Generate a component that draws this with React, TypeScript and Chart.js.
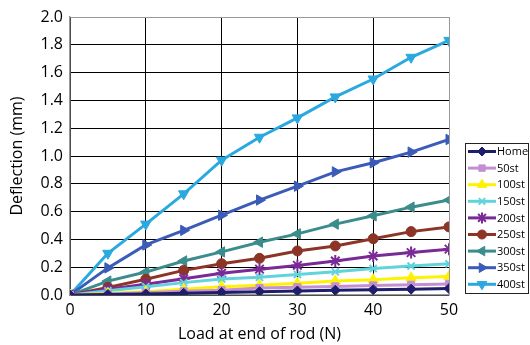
import React, { useEffect, useRef } from "react";
import { Chart, registerables } from "chart.js";
import { drawPoint } from "chart.js/helpers";
Chart.register(...registerables);

const loads = [0, 5, 10, 15, 20, 25, 30, 35, 40, 45, 50];
const seriesNames = ["Home", "50st", "100st", "150st", "200st", "250st", "300st", "350st", "400st"];
const home = [0, 0.003, 0.007, 0.012, 0.018, 0.024, 0.029, 0.034, 0.038, 0.042, 0.046];
const st50 = [0, 0.008, 0.017, 0.027, 0.035, 0.05, 0.056, 0.062, 0.069, 0.074, 0.08];
const st100 = [0, 0.012, 0.024, 0.042, 0.06, 0.07, 0.084, 0.1, 0.11, 0.124, 0.134];
const st150 = [0, 0.03, 0.06, 0.089, 0.115, 0.127, 0.148, 0.168, 0.19, 0.208, 0.224];
const st200 = [0, 0.042, 0.078, 0.117, 0.156, 0.186, 0.213, 0.245, 0.28, 0.305, 0.33];
const st250 = [0, 0.055, 0.113, 0.177, 0.225, 0.264, 0.317, 0.353, 0.405, 0.456, 0.49];
const st300 = [0, 0.1, 0.165, 0.245, 0.31, 0.38, 0.44, 0.51, 0.57, 0.632, 0.683];
const st350 = [0, 0.195, 0.36, 0.465, 0.574, 0.683, 0.783, 0.886, 0.951, 1.028, 1.119];
const st400 = [0, 0.3, 0.51, 0.728, 0.97, 1.135, 1.274, 1.425, 1.554, 1.71, 1.832];
const seriesValues = [home, st50, st100, st150, st200, st250, st300, st350, st400];
const seriesColors = ["#1e1f6b", "#c48fd2", "#fff200", "#62d3db", "#7a2a96", "#8c3527", "#3b8c8c", "#3a5bb8", "#2aa9e0"];
const seriesMarkers = ["rectRot", "rect", "triangle", "crossRot", "star", "circle", "triangle", "triangle", "triangle"];
const seriesRotations = [0, 0, 0, 0, 0, 0, -90, 90, 180];
const seriesRadii = [5, 5, 6, 5, 6, 5, 6, 6, 6];
const xTitle = "Load at end of rod (N)";
const yTitle = "Deflection (mm)";

const FONT = "'Open Sans', sans-serif";

function strokeOnly(m: string) {
  return m === "star" || m === "crossRot";
}

const customLegend = {
  id: "customLegend",
  afterDraw(chart: any) {
    const ctx = chart.ctx;
    const boxL = 465, boxT = 143, boxW = 63, boxH = 150;
    const rowH = 16.6, firstY = 151.5;
    ctx.save();
    ctx.strokeStyle = "#222";
    ctx.lineWidth = 1;
    ctx.strokeRect(boxL + 0.5, boxT + 0.5, boxW, boxH);
    ctx.font = `11px ${FONT}`;
    ctx.textBaseline = "middle";
    ctx.textAlign = "left";
    seriesNames.forEach((name, i) => {
      const y = firstY + i * rowH;
      const c = seriesColors[i];
      ctx.strokeStyle = c;
      ctx.fillStyle = c;
      ctx.lineWidth = 3;
      ctx.beginPath();
      ctx.moveTo(468, y);
      ctx.lineTo(496, y);
      ctx.stroke();
      const m = seriesMarkers[i];
      ctx.lineWidth = strokeOnly(m) ? 2 : 1;
      drawPoint(ctx, { pointStyle: m, rotation: seriesRotations[i], radius: seriesRadii[i] - 0.5, borderWidth: ctx.lineWidth } as any, 482, y);
      ctx.fillStyle = "#000";
      ctx.fillText(name, 497, y + 0.5);
    });
    ctx.restore();
  },
};

export default function App() {
  const ref = useRef<HTMLCanvasElement>(null);
  useEffect(() => {
    document.body.style.margin = "0";
    const datasets = seriesNames.map((name, i) => ({
      label: name,
      data: loads.map((x, j) => ({ x, y: seriesValues[i][j] })),
      borderColor: seriesColors[i],
      backgroundColor: seriesColors[i],
      borderWidth: 3,
      pointStyle: seriesMarkers[i],
      pointRotation: seriesRotations[i],
      pointRadius: seriesRadii[i],
      pointBorderWidth: strokeOnly(seriesMarkers[i]) ? 2 : 1,
      pointBackgroundColor: seriesColors[i],
      pointBorderColor: seriesColors[i],
      tension: 0,
    }));
    const chart = new Chart(ref.current!, {
      type: "line",
      data: { datasets },
      plugins: [customLegend],
      options: {
        responsive: false,
        animation: false,
        events: [],
        layout: { padding: { left: 0, right: 81, top: 17, bottom: 0 } },
        plugins: {
          tooltip: { enabled: false },
          legend: { display: false },
        },
        scales: {
          x: {
            type: "linear",
            min: 0,
            max: 50,
            afterFit: (s: any) => {
              s.height = 50;
            },
            ticks: { stepSize: 10, color: "#000", font: { family: FONT, size: 16 }, padding: 6 },
            grid: {
              drawTicks: false,
              color: (c: any) => (c.tick && c.tick.value === 50 ? "#999" : "#000"),
            },
            border: { color: "#999", width: 1.5 },
            title: { display: true, text: xTitle, color: "#000", font: { family: FONT, size: 16 }, padding: { top: 0, bottom: 1 } },
          },
          y: {
            min: 0,
            max: 2,
            afterFit: (s: any) => {
              s.width = 70;
            },
            ticks: {
              stepSize: 0.2,
              color: "#000",
              font: { family: FONT, size: 16 },
              padding: 7,
              callback: (v: any) => Number(v).toFixed(1),
            },
            grid: {
              drawTicks: false,
              color: (c: any) => (c.tick && Math.abs(c.tick.value - 2) < 1e-6 ? "#999" : "#000"),
            },
            border: { color: "#999", width: 1.5 },
            title: { display: true, text: yTitle, color: "#000", font: { family: FONT, size: 16 }, padding: { top: 8, bottom: 0 } },
          },
        },
      } as any,
    });
    return () => chart.destroy();
  }, []);
  return <canvas ref={ref} width={530} height={345} style={{ display: "block" }} />;
}
